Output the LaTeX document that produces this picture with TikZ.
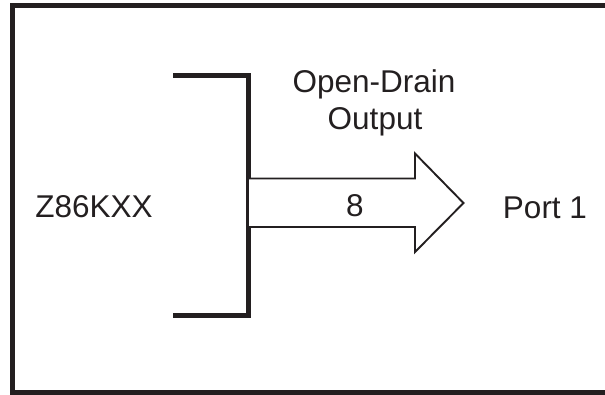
\documentclass[tikz,border=0pt]{standalone}
\usepackage{fontspec}
\setmainfont{Liberation Sans}
\definecolor{ink}{RGB}{35,31,32}
\begin{document}
\begin{tikzpicture}[x=1pt,y=-1pt,
  lbl/.style={font=\fontsize{31.5}{37}\selectfont, text=ink, inner sep=0pt, anchor=base},
  frame/.style={draw=ink, line width=5pt},
  bracket/.style={draw=ink, line width=5pt, line join=miter},
  bus/.style={draw=ink, line width=1.9pt, line join=miter, fill=white}]
\useasboundingbox (0,0) rectangle (605,394);
\clip (0,0) rectangle (605,394);
\draw[frame] (12,5.5) rectangle (625,392.5);
% bracket
\coordinate (bt) at (248,75);
\coordinate (bb) at (248,315);
\draw[bracket] (173,75) -- (bt) -- (bb) -- (173,315);
% bus arrow
\coordinate (s1) at (249,178.5);
\coordinate (s2) at (249,227);
\coordinate (tip) at (463.5,203);
\draw[bus] (s1) -- (415,178.5) -- (415,153.5) -- (tip) -- (415,252) -- (415,227) -- (s2);
% labels
\node[lbl] (chip) at (94,217) {Z86KXX};
\node[lbl] (od1) at (374,92.5) {Open-Drain};
\node[lbl] (od2) at (375,129.5) {Output};
\node[lbl] (w) at (355,216) {8};
\node[lbl] (port) at (545,218) {Port 1};
\end{tikzpicture}
\end{document}
